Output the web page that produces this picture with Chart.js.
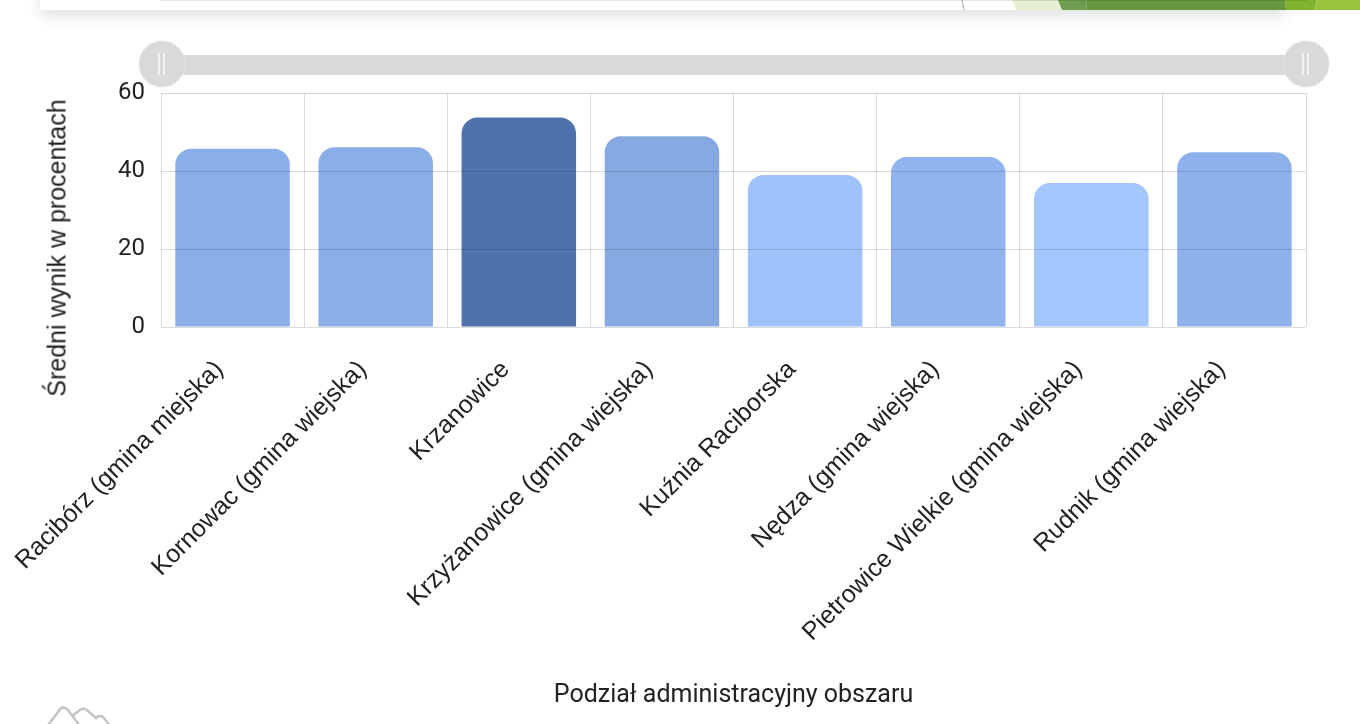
<!DOCTYPE html>
<html>
<head>
<meta charset="utf-8">
<script src="https://cdn.jsdelivr.net/npm/chart.js@4/dist/chart.umd.min.js"></script>
<style>
  html, body { margin: 0; padding: 0; background: #fff; width: 1360px; height: 724px; overflow: hidden; position: relative; }
  #topcard { position: absolute; left: 40px; top: -30px; width: 1245px; height: 40px; background: #fff; box-shadow: 0 7px 14px rgba(0,0,0,0.11); }
  #deco { position: absolute; left: 0; top: 0; }
  #slider { position: absolute; left: 0; top: 0; }
  #chartWrap { position: absolute; left: 0; top: 0; width: 1360px; height: 724px; }
  #ytitle { position: absolute; left: 57px; top: 248px; transform: translate(-50%, -50%) rotate(-90deg); white-space: nowrap;
            font-family: "Liberation Sans", Arial, sans-serif; font-size: 25px; color: #222; }
  #logo { position: absolute; left: 0; top: 690px; }
</style>
</head>
<body>
<div id="topcard"></div>
<svg id="deco" width="1360" height="12">
  <line x1="962" y1="0" x2="964" y2="10" stroke="#aaa" stroke-width="1"/>
  <polygon points="1012,0 1058,0 1062,10 1016,10" fill="#e6f0d3"/>
  <polygon points="1058,0 1087,0 1086,10 1062,10" fill="#6e9c50"/>
  <polygon points="1087,0 1285,0 1286,10 1086,10" fill="#67983f"/>
  <polygon points="1285,0 1317,0 1314,10 1286,10" fill="#82b32f"/>
  <polygon points="1317,0 1360,0 1360,10 1314,10" fill="#98c43f"/>
</svg>
<svg id="slider" width="1360" height="100">
  <rect x="162" y="55" width="1144" height="20" fill="#d9d9d9"/>
  <circle cx="162" cy="64" r="23" fill="#d9d9d9" stroke="#e6e6e6" stroke-width="1"/>
  <line x1="159" y1="53" x2="159" y2="75" stroke="#fff" stroke-width="1.3"/>
  <line x1="164" y1="53" x2="164" y2="75" stroke="#fff" stroke-width="1.3"/>
  <circle cx="1306" cy="64" r="23" fill="#d9d9d9" stroke="#e6e6e6" stroke-width="1"/>
  <line x1="1303" y1="53" x2="1303" y2="75" stroke="#fff" stroke-width="1.3"/>
  <line x1="1308" y1="53" x2="1308" y2="75" stroke="#fff" stroke-width="1.3"/>
</svg>
<div id="chartWrap"><canvas id="c" width="1360" height="724"></canvas></div>
<div id="ytitle">Średni wynik w procentach</div>
<svg id="logo" width="140" height="34">
  <path d="M46,38 L58,22 Q63,14 68,20 L80,36" fill="none" stroke="#c4c4c4" stroke-width="2.5"/>
  <path d="M72,26 L80,20 Q84,17 88,21 L96,28 Q100,24 104,28 L110,36" fill="none" stroke="#c4c4c4" stroke-width="2.5"/>
</svg>
<script>
const categories = [
  "Racibórz (gmina miejska)",
  "Kornowac (gmina wiejska)",
  "Krzanowice",
  "Krzyżanowice (gmina wiejska)",
  "Kuźnia Raciborska",
  "Nędza (gmina wiejska)",
  "Pietrowice Wielkie (gmina wiejska)",
  "Rudnik (gmina wiejska)"
];
const values = [45.7, 46.1, 53.7, 48.9, 39.0, 43.6, 36.9, 44.8];
const barColors = ["#8aaee8", "#8aaee8", "#4f72ad", "#86a9e2", "#9fc2fa", "#92b4ee", "#a3c6fe", "#8eb1ec"];
const yTickValues = [0, 20, 40, 60];
const xTitle = "Podział administracyjny obszaru";

const chart = new Chart(document.getElementById('c'), {
  type: 'bar',
  data: {
    labels: categories,
    datasets: [{
      data: values,
      backgroundColor: barColors,
      borderWidth: 0,
      borderRadius: { topLeft: 16, topRight: 16, bottomLeft: 0, bottomRight: 0 },
      barPercentage: 0.8,
      categoryPercentage: 1.0
    }]
  },
  options: {
    responsive: false,
    devicePixelRatio: 1,
    animation: false,
    layout: { padding: { top: 93, right: 54, left: 0, bottom: 0 } },
    plugins: { legend: { display: false }, tooltip: { enabled: false } },
    scales: {
      x: {
        grid: { color: 'rgba(0,0,0,0.14)', drawTicks: false, z: 1 },
        border: { color: 'rgba(0,0,0,0.2)' },
        ticks: {
          autoSkip: false, maxRotation: 45, minRotation: 45, padding: 28, labelOffset: -13,
          color: '#222', font: { family: '"Liberation Sans", Arial, sans-serif', size: 25 }
        },
        title: {
          display: true, text: xTitle, color: '#222',
          font: { family: 'Roboto, sans-serif', size: 25 },
          padding: { top: 0, bottom: 13 }
        },
        afterFit: (s) => { s.height = 397; s.paddingLeft = 0; s.paddingRight = 0; }
      },
      y: {
        min: 0, max: 60,
        grid: { color: 'rgba(0,0,0,0.14)', drawTicks: false, z: 1 },
        border: { display: false },
        afterBuildTicks: (s) => { s.ticks = yTickValues.map(v => ({ value: v })); },
        ticks: {
          padding: 16, color: '#222',
          font: { family: 'Roboto, sans-serif', size: 24 }
        },
        afterFit: (s) => { s.width = 161; }
      }
    }
  }
});
</script>
</body>
</html>
